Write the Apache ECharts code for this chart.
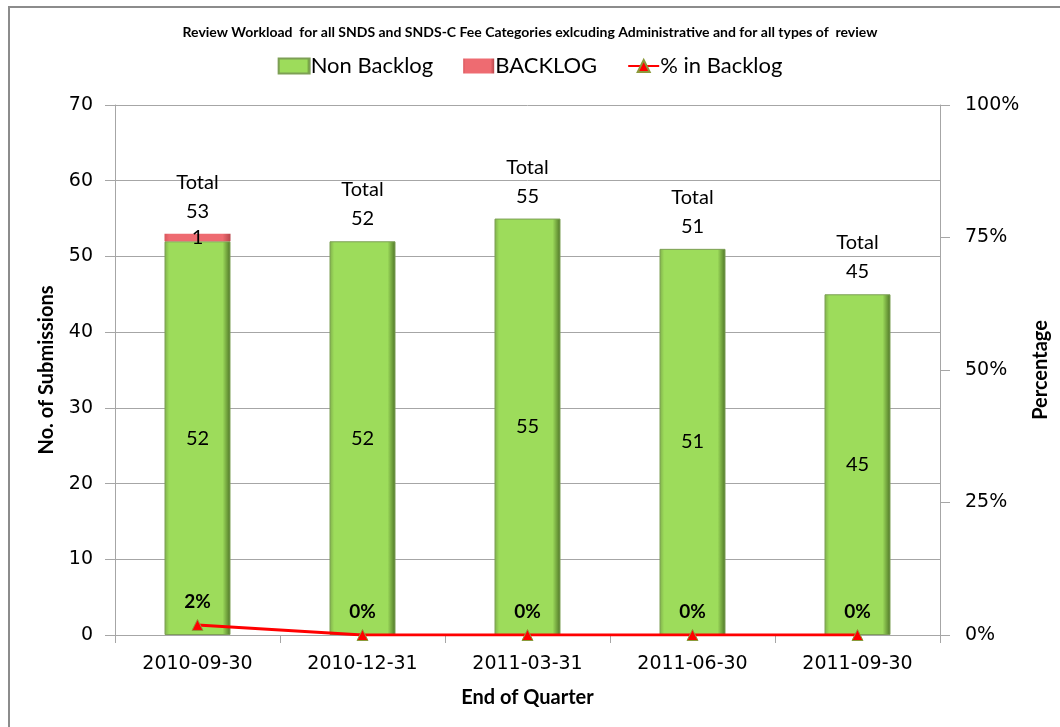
<!DOCTYPE html>
<html><head><meta charset="utf-8">
<script src="https://cdn.jsdelivr.net/npm/echarts@6/dist/echarts.min.js"></script>
<style>html,body{margin:0;padding:0;background:#fff}#c{width:1060px;height:727px}</style>
</head><body><div id="c"></div>
<script>
const categories = ['2010-09-30','2010-12-31','2011-03-31','2011-06-30','2011-09-30'];
const nonBacklog = [52,52,55,51,45];
const backlog = [1,0,0,0,0];
const totals = [53,52,55,51,45];
const pctBacklog = [1.9,0,0,0,0];
const leftTicks = {min:0,max:70,interval:10};
const rightTicks = {min:0,max:100,interval:25};

const FONT = 'Lato';
const AXF = 'DejaVu Sans';
const chart = echarts.init(document.getElementById('c'));
const greenGrad = new echarts.graphic.LinearGradient(0,0,1,0,[
  {offset:0,color:'#7fae4a'},{offset:0.07,color:'#9ddc5b'},{offset:0.88,color:'#9ddc5b'},
  {offset:0.95,color:'#6f9f3c'},{offset:1,color:'#4c7327'}]);
const redGrad = new echarts.graphic.LinearGradient(0,0,1,0,[
  {offset:0,color:'#d9565c'},{offset:0.07,color:'#ee6b71'},{offset:0.88,color:'#ee6b71'},
  {offset:1,color:'#b8464b'}]);
chart.setOption({
  animation:false,
  title:{text:'Review Workload  for all SNDS and SNDS-C Fee Categories exlcuding Administrative and for all types of  review',
    left:'center', top:20, textStyle:{fontFamily:FONT,fontWeight:'bold',fontSize:14,color:'#000'}},
  legend:{top:50,left:'center',itemWidth:31,itemHeight:15,itemGap:30,
    textStyle:{fontFamily:FONT,fontSize:22,color:'#000',padding:[0,0,0,-4]},
    data:[{name:'Non Backlog',icon:'rect'},{name:'BACKLOG',icon:'rect'},{name:'% in Backlog'}]},
  grid:{left:115,right:120,top:105,bottom:92,outerBoundsMode:'none',containLabel:false},
  xAxis:{type:'category',data:categories,
    axisLine:{lineStyle:{color:'#a6a6a6',width:1}},
    axisTick:{show:true,length:8,lineStyle:{color:'#a6a6a6'}},
    axisLabel:{fontFamily:AXF,fontSize:19,color:'#000',margin:20},
    name:'End of Quarter',nameLocation:'middle',nameGap:53,
    nameTextStyle:{fontFamily:FONT,fontWeight:'bold',fontSize:20,color:'#000'}},
  yAxis:[
    {type:'value',min:leftTicks.min,max:leftTicks.max,interval:leftTicks.interval,
     axisLine:{show:true,lineStyle:{color:'#a6a6a6'}},
     axisTick:{show:true,length:10,lineStyle:{color:'#a6a6a6'}},
     splitLine:{lineStyle:{color:'#a6a6a6'}},
     axisLabel:{fontFamily:AXF,fontSize:19,color:'#000',margin:22},
     name:'No. of Submissions',nameLocation:'middle',nameRotate:90,nameGap:58,
     nameTextStyle:{fontFamily:FONT,fontWeight:'bold',fontSize:20,color:'#000'}},
    {type:'value',position:'right',min:rightTicks.min,max:rightTicks.max,interval:rightTicks.interval,
     axisLine:{show:true,lineStyle:{color:'#a6a6a6'}},
     axisTick:{show:true,length:10,lineStyle:{color:'#a6a6a6'}},
     splitLine:{show:false},
     axisLabel:{fontFamily:AXF,fontSize:19,color:'#000',margin:25,formatter:'{value}%'},
     name:'Percentage',nameLocation:'middle',nameRotate:90,nameGap:90,
     nameTextStyle:{fontFamily:FONT,fontWeight:'bold',fontSize:20,color:'#000'}}
  ],
  series:[
    {name:'Non Backlog',type:'bar',stack:'a',barWidth:'40%',data:nonBacklog,
     itemStyle:{color:greenGrad,borderColor:'#7d9f55',borderWidth:1},
     label:{show:true,position:'inside',fontFamily:FONT,fontSize:20,color:'#000'}},
    {name:'BACKLOG',type:'bar',stack:'a',barWidth:'40%',data:backlog,
     itemStyle:{color:redGrad,borderWidth:0},
     label:{show:true,position:'inside',fontFamily:FONT,fontSize:20,color:'#000',
       formatter:p=>p.value? String(p.value):''}},
    {name:'Total',type:'line',data:totals,symbol:'circle',symbolSize:0,showSymbol:true,
     lineStyle:{opacity:0},itemStyle:{color:'transparent'},
     label:{show:true,position:'top',distance:8,fontFamily:FONT,fontSize:20,color:'#000',lineHeight:29,
       formatter:p=>'Total\n'+p.value},z:5},
    {name:'% in Backlog',type:'line',yAxisIndex:1,data:pctBacklog,
     symbol:'triangle',symbolSize:11,
     lineStyle:{color:'#ff0000',width:3},
     itemStyle:{color:'#ff0000',borderColor:'#8c9a3c',borderWidth:1},
     label:{show:true,position:'top',distance:8,fontFamily:FONT,fontWeight:'bold',fontSize:19,color:'#000',
       formatter:p=>Math.round(p.value)+'%'},z:6}
  ],
  graphic:[
    {type:'polyline',shape:{points:[[9,727],[9,7],[1060,7]]},style:{stroke:'#8c8c8c',lineWidth:2,fill:null},silent:true}
  ]
});
</script></body></html>
